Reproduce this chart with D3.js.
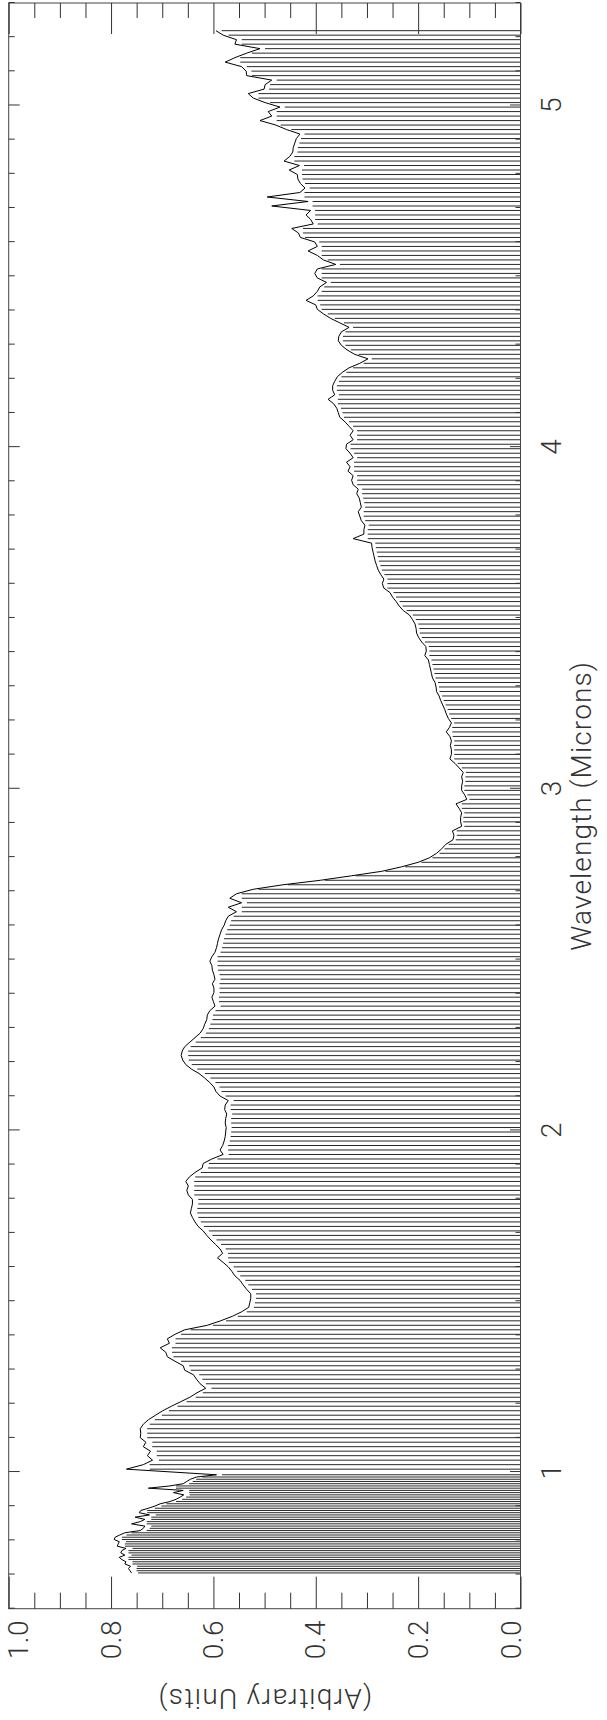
<!DOCTYPE html>
<html>
<head>
<meta charset="utf-8">
<script src="https://cdn.jsdelivr.net/npm/d3@7"></script>
<style>
  body { margin: 0; background: #fff; }
  svg text { font-family: Roboto, "Liberation Sans", sans-serif; font-weight: 300; }
</style>
</head>
<body>
<div id="chart"></div>
<script>
// spectrum, listed from long to short wavelength
// red part: regular grid starting at 5.219 microns
var redStart = 5.219, redStep = 0.013158;
var redFlux = [
  0.595, 0.581, 0.555, 0.558, 0.509, 0.535, 0.558, 0.577, 0.545, 0.536,
  0.535, 0.486, 0.499, 0.501, 0.532, 0.522, 0.499, 0.470, 0.493, 0.486,
  0.509, 0.478, 0.457, 0.431, 0.438, 0.441, 0.444, 0.445, 0.451, 0.462,
  0.432, 0.452, 0.436, 0.435, 0.430, 0.421, 0.431, 0.495, 0.415, 0.486,
  0.410, 0.419, 0.410, 0.405, 0.447, 0.434, 0.430, 0.402, 0.397, 0.415,
  0.397, 0.385, 0.361, 0.397, 0.402, 0.397, 0.379, 0.392, 0.397, 0.405,
  0.419, 0.400, 0.397, 0.385, 0.371, 0.353, 0.335, 0.350, 0.355, 0.356,
  0.350, 0.339, 0.324, 0.298, 0.314, 0.335, 0.348, 0.358, 0.363, 0.367,
  0.367, 0.363, 0.376, 0.365, 0.359, 0.356, 0.353, 0.343, 0.335, 0.327,
  0.333, 0.327, 0.340, 0.341, 0.333, 0.327, 0.340, 0.333, 0.337, 0.327,
  0.330, 0.327, 0.317, 0.320, 0.315, 0.313, 0.311, 0.317, 0.314, 0.311,
  0.304, 0.306, 0.306, 0.327, 0.291, 0.290, 0.288, 0.286, 0.284, 0.281,
  0.278, 0.273, 0.267, 0.270, 0.267, 0.255, 0.250, 0.243, 0.237, 0.229,
  0.217, 0.211, 0.206, 0.204, 0.203, 0.199, 0.193, 0.185, 0.184, 0.187,
  0.180, 0.178, 0.176, 0.174, 0.172, 0.167, 0.165, 0.164, 0.159, 0.156,
  0.152, 0.148, 0.145, 0.141, 0.135, 0.139, 0.145, 0.138, 0.135, 0.137,
  0.135, 0.135, 0.138, 0.128, 0.120, 0.112, 0.115, 0.113, 0.115, 0.115,
  0.109, 0.105, 0.126, 0.120, 0.115, 0.117, 0.117, 0.115, 0.133, 0.130,
  0.132, 0.146, 0.154, 0.164, 0.178, 0.200, 0.232, 0.271, 0.330, 0.391,
  0.464, 0.522, 0.555, 0.568, 0.545, 0.571, 0.555, 0.571, 0.576, 0.579,
  0.584, 0.587, 0.590, 0.592, 0.594, 0.597, 0.603, 0.607, 0.603, 0.602,
  0.599, 0.597, 0.602, 0.599, 0.599, 0.603, 0.600, 0.597, 0.607, 0.612,
  0.613, 0.617, 0.620, 0.626, 0.636, 0.646, 0.656, 0.661, 0.663, 0.660,
  0.654, 0.643, 0.628, 0.617, 0.607, 0.599, 0.595, 0.587, 0.571, 0.577,
  0.578, 0.574, 0.576, 0.577, 0.575, 0.576, 0.577, 0.579, 0.582, 0.587,
  0.581, 0.603, 0.620, 0.622, 0.636, 0.647, 0.654, 0.649, 0.652, 0.649,
  0.641, 0.641, 0.643, 0.645, 0.641, 0.636, 0.630, 0.620, 0.613, 0.605,
  0.596, 0.587, 0.582, 0.592, 0.581, 0.571, 0.564, 0.558, 0.548, 0.542,
  0.535, 0.527, 0.527, 0.529, 0.531, 0.545, 0.563, 0.586, 0.612, 0.656,
  0.675, 0.690, 0.686, 0.704, 0.693, 0.690, 0.675, 0.659, 0.656, 0.639,
  0.633, 0.626, 0.615, 0.632, 0.646, 0.664, 0.682, 0.699, 0.713, 0.727,
  0.737, 0.743, 0.742, 0.743, 0.732, 0.737, 0.723, 0.729, 0.719, 0.737,
  0.770
];
// blue part: finer grid starting at 0.992 microns
var blueStart = 0.992, blueStep = 0.00653;
var blueFlux = [
  0.594, 0.633, 0.645, 0.652, 0.659, 0.685, 0.727, 0.659, 0.678, 0.658,
  0.665, 0.673, 0.685, 0.704, 0.714, 0.727, 0.742, 0.745, 0.725, 0.753,
  0.734, 0.743, 0.760, 0.734, 0.737, 0.743, 0.773, 0.783, 0.792, 0.794,
  0.784, 0.786, 0.788, 0.771, 0.779, 0.781, 0.773, 0.784, 0.779, 0.771,
  0.773, 0.762, 0.766, 0.763, 0.760
];

var wlDomain = [0.6, 5.3];
var wlMajor = [1, 2, 3, 4, 5];
var fluxTicks = [0, 0.2, 0.4, 0.6, 0.8, 1.0];

var width = 607, height = 1720;
// the plot is drawn landscape and then turned a quarter turn to the left
var frame = { left: 8.7, bottom: 1608.7 },
  plotW = 1605.7,  // wavelength axis, runs up the page
  plotH = 511.8;   // flux axis

var svg = d3.select('#chart').append('svg')
  .attr('width', width)
  .attr('height', height);

var g = svg.append('g')
  .attr('transform', 'translate(' + frame.left + ',' + frame.bottom + ') rotate(-90)');

var x = d3.scaleLinear().domain(wlDomain).range([0, plotW]);
var y = d3.scaleLinear().domain([0, 1]).range([plotH, 0]);

var blue = blueFlux.map(function (f, i) { return { wl: blueStart - blueStep * i, flux: f }; }).reverse();
var red = redFlux.map(function (f, i) { return { wl: redStart - redStep * i, flux: f }; }).reverse();
var pts = blue.concat(red);

// hatch lines stop short of single spikes and a little below the curve
function stemTop(i) {
  var d = pts[i].flux,
    prev = i > 0 ? pts[i - 1].flux : d,
    next = i < pts.length - 1 ? pts[i + 1].flux : d;
  return Math.min(d, Math.max(prev, next));
}

g.append('g')
  .attr('class', 'stems')
  .selectAll('line')
  .data(pts)
  .enter()
  .append('line')
  .attr('x1', function (d) { return x(d.wl); })
  .attr('x2', function (d) { return x(d.wl); })
  .attr('y1', y(0))
  .attr('y2', function (d, i) { var t = stemTop(i); return y(t) + 2 + 6 * t; })
  .attr('stroke', '#111')
  .attr('stroke-width', 0.9);

var line = d3.line()
  .x(function (d) { return x(d.wl); })
  .y(function (d) { return y(d.flux); });

g.append('path')
  .datum(pts)
  .attr('d', line)
  .attr('fill', 'none')
  .attr('stroke', '#000')
  .attr('stroke-width', 1);

// frame
g.append('rect')
  .attr('width', plotW)
  .attr('height', plotH)
  .attr('fill', 'none')
  .attr('stroke', '#444')
  .attr('stroke-width', 1);

var wlMinor = d3.range(6, 54).filter(function (i) { return i % 10 !== 0; }).map(function (i) { return i / 10; });
var fluxMinor = d3.range(0, 21).filter(function (i) { return i % 4 !== 0; }).map(function (i) { return i / 20; });

function styleAxis(sel) {
  sel.select('.domain').remove();
  sel.attr('color', '#333')
    .attr('font-size', 28)
    .attr('font-family', null);
  sel.selectAll('text').attr('letter-spacing', 0.5);
}

// wavelength axes (right and left on the page)
g.append('g')
  .attr('transform', 'translate(0,' + plotH + ')')
  .call(d3.axisBottom(x).tickValues(wlMajor).tickSize(-10.5).tickPadding(20.5).tickFormat(d3.format('d')))
  .call(styleAxis);
g.append('g')
  .attr('transform', 'translate(0,' + plotH + ')')
  .call(d3.axisBottom(x).tickValues(wlMinor).tickSize(-5).tickFormat(''))
  .call(styleAxis);
g.append('g')
  .call(d3.axisTop(x).tickValues(wlMajor).tickSize(-11).tickFormat(''))
  .call(styleAxis);
g.append('g')
  .call(d3.axisTop(x).tickValues(wlMinor).tickSize(-6).tickFormat(''))
  .call(styleAxis);

// flux axes (bottom and top on the page)
g.append('g')
  .call(d3.axisLeft(y).tickValues(fluxTicks).tickSize(-32).tickPadding(11.3).tickFormat(d3.format('.1f')))
  .call(styleAxis)
  .selectAll('text')
  .attr('y', function (d) { return d === 1 ? 9.6 : d === 0 ? -8.8 : 0; });
g.append('g')
  .call(d3.axisLeft(y).tickValues(fluxMinor).tickSize(-16).tickFormat(''))
  .call(styleAxis);
g.append('g')
  .attr('transform', 'translate(' + plotW + ',0)')
  .call(d3.axisRight(y).tickValues(fluxTicks).tickSize(-31).tickFormat(''))
  .call(styleAxis);
g.append('g')
  .attr('transform', 'translate(' + plotW + ',0)')
  .call(d3.axisRight(y).tickValues(fluxMinor).tickSize(-15).tickFormat(''))
  .call(styleAxis);

// axis titles
g.append('text')
  .attr('x', plotW / 2)
  .attr('y', plotH + 71)
  .attr('text-anchor', 'middle')
  .attr('font-size', 28)
  .attr('letter-spacing', 1.1)
  .attr('fill', '#333')
  .text('Wavelength (Microns)');

g.append('text')
  .attr('transform', 'translate(-80,' + plotH / 2 + ') rotate(-90)')
  .attr('text-anchor', 'middle')
  .attr('font-size', 28)
  .attr('letter-spacing', 1.3)
  .attr('fill', '#333')
  .text('(Arbitrary Units)');
</script>
</body>
</html>
